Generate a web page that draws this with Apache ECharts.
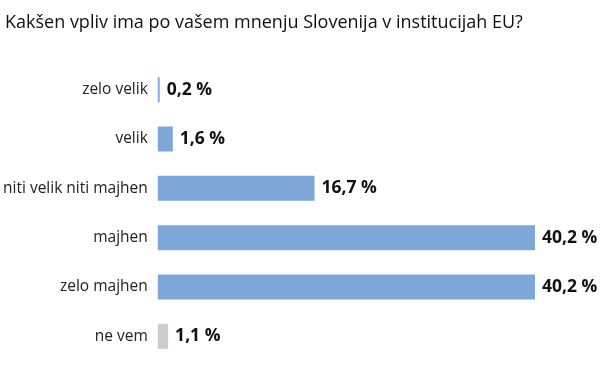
<!DOCTYPE html>
<html>
<head>
<meta charset="utf-8">
<script src="https://cdn.jsdelivr.net/npm/echarts@6/dist/echarts.min.js"></script>
<style>
  html, body { margin: 0; padding: 0; background: #fff; }
  #chart { width: 600px; height: 376px; }
</style>
</head>
<body>
<div id="chart"></div>
<script>
var title = 'Kakšen vpliv ima po vašem mnenju Slovenija v institucijah EU?';
var categories = ['zelo velik', 'velik', 'niti velik niti majhen', 'majhen', 'zelo majhen', 'ne vem'];
var values = [0.2, 1.6, 16.7, 40.2, 40.2, 1.1];
var barColors = ['#7da7d9', '#7da7d9', '#7da7d9', '#7da7d9', '#7da7d9', '#cccccc'];

var chart = echarts.init(document.getElementById('chart'));

chart.setOption({
  animation: false,
  title: {
    text: title,
    left: 0,
    top: 9,
    textStyle: { fontFamily: 'Open Sans', fontSize: 18, fontWeight: 'normal', color: '#111' }
  },
  grid: { left: 157, right: 65, top: 65, bottom: 15 },
  xAxis: {
    type: 'value',
    min: 0,
    max: 40.2,
    show: false
  },
  yAxis: {
    type: 'category',
    data: categories,
    inverse: true,
    axisLine: { show: false },
    axisTick: { show: false },
    axisLabel: {
      margin: 10,
      fontFamily: 'Open Sans',
      fontSize: 15.5,
      color: '#222'
    }
  },
  series: [{
    type: 'bar',
    barWidth: 25,
    data: values.map(function (v, i) {
      return { value: v, itemStyle: { color: barColors[i] } };
    }),
    label: {
      show: true,
      position: 'right',
      distance: 7,
      fontFamily: 'Open Sans',
      fontSize: 17.5,
      fontWeight: 'bold',
      color: '#111',
      formatter: function (p) {
        return String(p.value).replace('.', ',') + ' %';
      }
    }
  }]
});
</script>
</body>
</html>
